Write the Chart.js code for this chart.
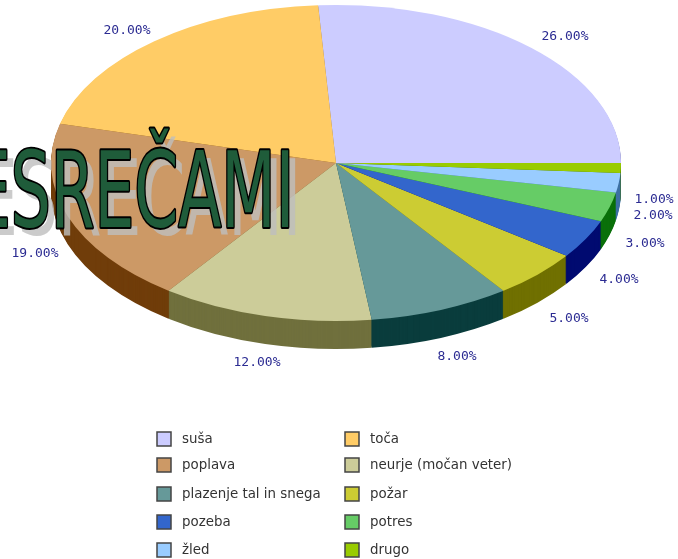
<!DOCTYPE html>
<html><head><meta charset="utf-8">
<style>html,body{margin:0;padding:0;background:#fff;overflow:hidden}#w{position:relative;width:678px;height:559px}canvas{display:block;filter:blur(0.35px)}</style>
<script src="https://cdn.jsdelivr.net/npm/chart.js@4/dist/chart.umd.min.js"></script>
</head><body><div id="w"><canvas id="c" width="678" height="559"></canvas></div>
<script>
const categories=['suša','toča','poplava','neurje (močan veter)','plazenje tal in snega','požar','pozeba','potres','žled','drugo'];
const values=[26,20,19,12,8,5,4,3,2,1];
const topColors=['#ccccff','#ffcc66','#cc9966','#cccc99','#669999','#cccc33','#3366cc','#66cc66','#99ccff','#99cc00'];
const sideColors=['#7070a3','#a3700a','#703d0a','#70703d','#0a3d3d','#707000','#000a70','#0a700a','#3d70a3','#3d7000'];
const labelAnchors=[[565,36],[127,30],[35,253],[257,362],[457,356],[569,318],[619,279],[645,243],[653,215],[654,199]];
const titleText='ESREČAMI';
const legendCols=[157,345];
const legendRows=[439,465,494,522,550];

const CX=336,CY=163,RX=285,RY=158,DEPTH=28;
function withFlat(chart,fn){
  const ctx=chart.ctx,a=chart.getDatasetMeta(0).data[0];
  ctx.save();
  ctx.translate(CX,CY);
  ctx.scale(-RX/a.outerRadius,1);
  ctx.translate(-a.x,-a.y);
  fn(ctx,chart.getDatasetMeta(0).data);
  ctx.restore();
}
const pie3d={id:'pie3d',
  beforeDatasetDraw(chart){
    withFlat(chart,(ctx,arcs)=>{
      for(let d=DEPTH;d>=1;d--){
        arcs.forEach((arc,i)=>{
          const o=arc.options.backgroundColor;
          arc.options.backgroundColor=sideColors[i];
          ctx.save();ctx.translate(0,d);arc.draw(ctx);ctx.restore();
          arc.options.backgroundColor=o;
        });
      }
      arcs.forEach(arc=>arc.draw(ctx));
    });
    return false;
  },
  afterDraw(chart){
    const ctx=chart.ctx;
    ctx.save();
    ctx.font='13px "DejaVu Sans Mono"';ctx.fillStyle='#2b2b92';ctx.textAlign='center';ctx.textBaseline='middle';
    values.forEach((v,i)=>ctx.fillText(v.toFixed(2)+'%',labelAnchors[i][0],labelAnchors[i][1]+1));
    ctx.restore();
    ctx.save();
    ctx.font='13.4px "DejaVu Sans"';ctx.textBaseline='middle';ctx.textAlign='left';
    categories.forEach((c,i)=>{
      const x=legendCols[i%2],y=legendRows[Math.floor(i/2)];
      ctx.fillStyle=topColors[i];ctx.fillRect(x,y-7,14,14);
      ctx.strokeStyle='#444';ctx.lineWidth=1.5;ctx.strokeRect(x,y-7,14,14);
      ctx.fillStyle='#333';ctx.fillText(c,x+25,y+1);
    });
    ctx.restore();
    const draw=(dx,dy,fn)=>{ctx.save();ctx.translate(dx,dy);ctx.scale(0.7,1.06);ctx.font='100px "DejaVu Sans Condensed"';ctx.textBaseline='alphabetic';ctx.textAlign='left';fn();ctx.restore();};
    draw(-22,235,()=>{ctx.fillStyle='rgba(190,190,190,0.8)';ctx.fillText(titleText,0,0);});
    draw(-29,227,()=>{ctx.lineJoin='round';ctx.lineWidth=3.6;ctx.strokeStyle='#000';ctx.strokeText(titleText,0,0);ctx.fillStyle='#1f5c3a';ctx.fillText(titleText,0,0);});
  }
};
new Chart(document.getElementById('c'),{
  type:'pie',
  data:{labels:categories,datasets:[{data:values,backgroundColor:topColors,borderWidth:0}]},
  options:{responsive:false,animation:false,rotation:-90,
    layout:{padding:{top:5,bottom:559-321,left:CX-158,right:678-CX-158}},
    plugins:{legend:{display:false},tooltip:{enabled:false}}},
  plugins:[pie3d]
});
</script></body></html>
